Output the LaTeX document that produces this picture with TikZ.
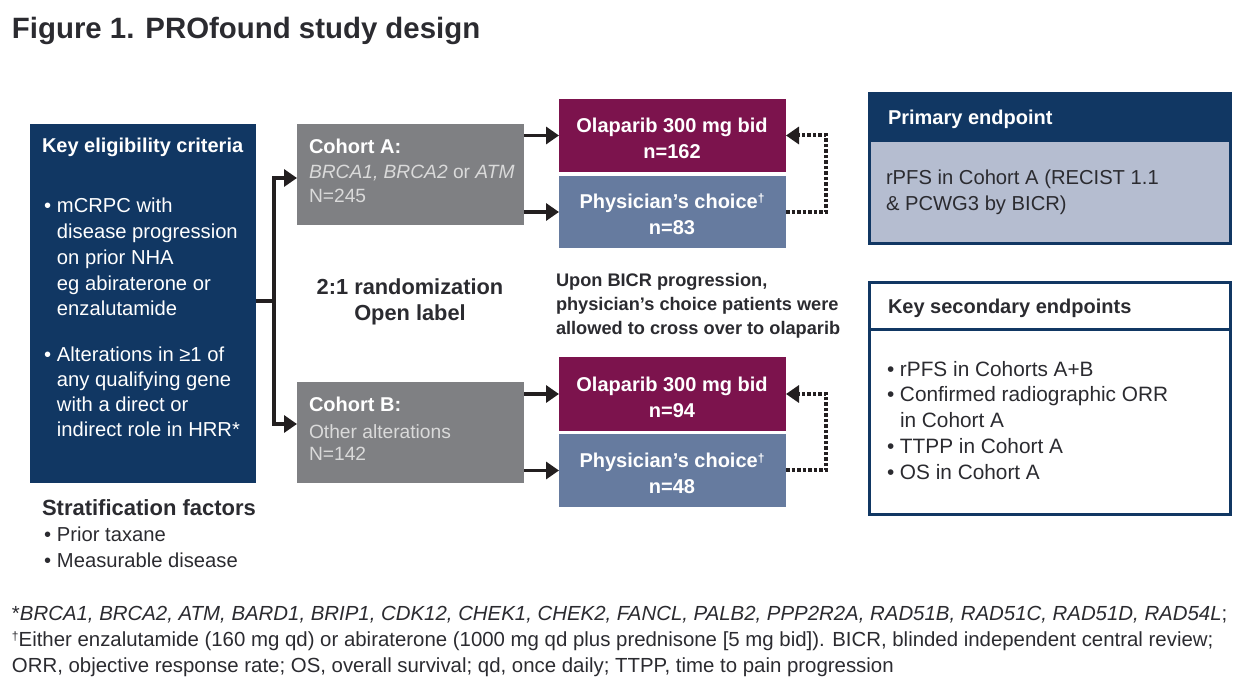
\documentclass[tikz,border=0pt]{standalone}
\usepackage{fontspec}
\setmainfont{Liberation Sans}
\usetikzlibrary{arrows.meta}
\definecolor{navy}{HTML}{113763}
\definecolor{maroon}{HTML}{7C134D}
\definecolor{slate}{HTML}{667B9F}
\definecolor{cgray}{HTML}{7F8083}
\definecolor{lightb}{HTML}{B5BDD0}
\definecolor{ink}{HTML}{2B2B30}
\definecolor{arrowk}{HTML}{231F20}
\definecolor{paleg}{HTML}{DADADA}
\newcommand{\fs}[2]{\fontsize{#1}{#2}\selectfont}
\newcommand{\bl}{\makebox[13pt][l]{•}}
\newcommand{\dg}{\raisebox{6pt}{\fontsize{12}{12}\selectfont †}}
\tikzset{
 box/.style={draw=none,inner sep=0pt,outer sep=0pt,anchor=north west},
 txt/.style={inner sep=0pt,outer sep=0pt,anchor=base west,align=left,text=ink},
 wtxt/.style={txt,text=white},
 ctxt/.style={inner sep=0pt,outer sep=0pt,anchor=base,align=center,text=white,font=\bfseries\fs{20}{26}},
 arr/.style={line width=3.6pt,draw=arrowk,-{Triangle[length=13pt,width=17pt]}},
 link/.style={line width=3.6pt,draw=arrowk},
 dots/.style={line width=4pt,draw=arrowk,dash pattern=on 3.5pt off 2pt,-{Triangle[length=13pt,width=17pt]}}
}
\begin{document}
\begin{tikzpicture}[x=1pt,y=-1pt]
\useasboundingbox (0,0) rectangle (1254,684);
\node[txt,font=\bfseries\fs{29.4}{32}] (title) at (12,39) {Figure 1. PROfound study design};
% boxes
\node[box,fill=navy,minimum width=226pt,minimum height=359pt] (key) at (30,124) {};
\node[box,fill=cgray,minimum width=227pt,minimum height=101pt] (cohA) at (297,124) {};
\node[box,fill=cgray,minimum width=227pt,minimum height=101pt] (cohB) at (297,382) {};
\node[box,fill=maroon,minimum width=227pt,minimum height=73pt] (olA) at (559,99) {};
\node[box,fill=slate,minimum width=227pt,minimum height=72pt] (phA) at (559,176) {};
\node[box,fill=maroon,minimum width=227pt,minimum height=74pt] (olB) at (559,357) {};
\node[box,fill=slate,minimum width=227pt,minimum height=73pt] (phB) at (559,434) {};
\node[box,fill=lightb,draw=navy,line width=3pt,minimum width=361pt,minimum height=150pt] (prim) at (869.5,93.5) {};
\node[box,fill=navy,minimum width=364pt,minimum height=50pt] (primh) at (868,92) {};
\node[box,fill=white,draw=navy,line width=3pt,minimum width=361pt,minimum height=232pt] (sec) at (869.5,282.5) {};
\coordinate (sl) at (869.5,330);
\draw[navy,line width=3pt] (sl) -- (sec.east |- sl);
% connectors
\coordinate (tr) at (274,301);
\coordinate (inA) at (297,178);
\coordinate (inB) at (297,424);
\draw[link] (key.east |- tr) -- (tr);
\draw[arr] (tr) |- (inA);
\draw[arr] (tr) |- (inB);
\draw[arr] (cohA.east |- olA.west) -- (olA.west);
\draw[arr] (cohA.east |- phA.west) -- (phA.west);
\draw[arr] (cohB.east |- olB.west) -- (olB.west);
\draw[arr] (cohB.east |- phB.west) -- (phB.west);
\draw[dots] (phA.east) -- ++(40,0) |- (olA.east);
\draw[dots] (phB.east) -- ++(40,0) |- (olB.east);
% key box text
\node[wtxt,font=\bfseries\fs{20}{26}] (keyt) at (42,153) {Key eligibility criteria};
\node[wtxt,font=\fs{20.2}{25.8}] (keyl1) at (44,316) {\bl mCRPC with\\\hspace*{13pt}disease progression\\\hspace*{13pt}on prior NHA\\\hspace*{13pt}eg abiraterone or\\\hspace*{13pt}enzalutamide};
\node[wtxt,font=\fs{20.2}{25.3}] (keyl2) at (44,437) {\bl Alterations in ≥1 of\\\hspace*{13pt}any qualifying gene\\\hspace*{13pt}with a direct or\\\hspace*{13pt}indirect role in HRR*};
% stratification
\node[txt,font=\bfseries\fs{22}{26}] (strat) at (42,515) {Stratification factors};
\node[txt,font=\fs{20.2}{26}] (stratl) at (44,567) {\bl Prior taxane\\\bl Measurable disease};
% cohorts
\node[wtxt,font=\bfseries\fs{20}{25}] (ca) at (309,154) {Cohort A:};
\node[txt,text=paleg,font=\fs{19.2}{24}] (cb) at (309,203) {\textit{BRCA1, BRCA2} or \textit{ATM}\\N=245};
\node[wtxt,font=\bfseries\fs{20}{25}] (cc) at (309,412) {Cohort B:};
\node[txt,text=paleg,font=\fs{19.2}{22}] (cd) at (309,461) {Other alterations\\N=142};
% arms
\node[ctxt] (a1) at (672,159) {Olaparib 300 mg bid\\n=162};
\node[ctxt] (a2) at (672,235) {Physician’s choice\dg\\n=83};
\node[ctxt] (a3) at (672,418) {Olaparib 300 mg bid\\n=94};
\node[ctxt] (a4) at (672,494) {Physician’s choice\dg\\n=48};
% mid labels
\node[txt,anchor=base,align=center,font=\bfseries\fs{21.8}{26}] (rand) at (410,321) {2:1 randomization\\Open label};
\node[txt,font=\bfseries\fs{18.2}{24}] (upon) at (556,335) {Upon BICR progression,\\physician’s choice patients were\\allowed to cross over to olaparib};
% endpoints
\node[wtxt,font=\bfseries\fs{20}{26}] (pe) at (888,125) {Primary endpoint};
\node[txt,font=\fs{20.2}{26}] (pt) at (886,211) {rPFS in Cohort A (RECIST 1.1\\\& PCWG3 by BICR)};
\node[txt,font=\bfseries\fs{20}{26}] (se) at (888,314) {Key secondary endpoints};
\node[txt,font=\fs{20.8}{26}] (st) at (887,480) {\bl rPFS in Cohorts A+B\\\bl Confirmed radiographic ORR\\\hspace*{13pt}in Cohort A\\\bl TTPP in Cohort A\\\bl OS in Cohort A};
% footnote
\node[txt,font=\fs{20.4}{26}] (fn) at (12,672) {*\textit{BRCA1, BRCA2, ATM, BARD1, BRIP1, CDK12, CHEK1, CHEK2, FANCL, PALB2, PPP2R2A, RAD51B, RAD51C, RAD51D, RAD54L};\\\raisebox{6pt}{\fontsize{12}{12}\selectfont †}Either enzalutamide (160 mg qd) or abiraterone (1000 mg qd plus prednisone [5 mg bid]). BICR, blinded independent central review;\\ORR, objective response rate; OS, overall survival; qd, once daily; TTPP, time to pain progression};
\end{tikzpicture}
\end{document}
